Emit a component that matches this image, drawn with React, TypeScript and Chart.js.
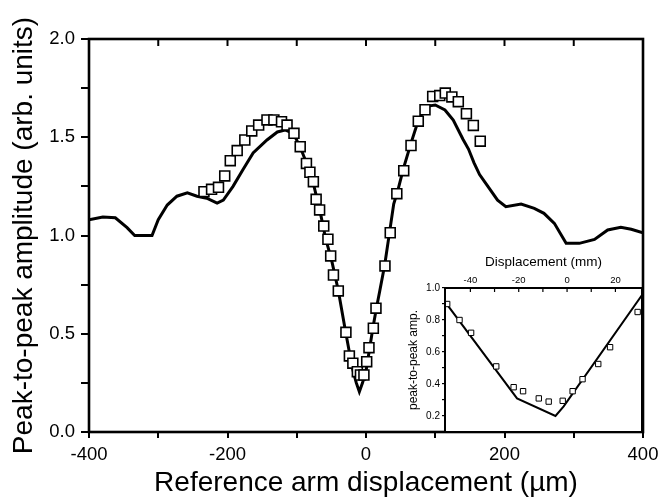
import React, { useEffect, useRef } from 'react';
import { Chart, registerables } from 'chart.js';

Chart.register(...registerables);

// ---- Main chart data (x in µm, y in arb. units) ----
const lineX = [-400, -380, -362, -345, -334, -309, -300, -287, -273, -258, -244, -230, -215, -206, -192, -178, -163, -143, -128, -117, -105, -95, -85, -75, -65, -58, -50, -40, -30, -20, -14, -9.6, -5, 0, 5, 10, 15, 20, 27, 35, 40, 46, 54, 65, 75, 83, 92, 100, 114, 126, 140, 148, 156, 164, 176, 190, 202, 224, 243, 257, 272, 289, 308, 330, 349, 368, 383, 400];
const lineY = [1.08, 1.094, 1.09, 1.04, 1.0, 1.0, 1.08, 1.155, 1.2, 1.217, 1.2, 1.19, 1.165, 1.18, 1.25, 1.333, 1.42, 1.486, 1.527, 1.537, 1.52, 1.45, 1.36, 1.25, 1.1, 0.98, 0.88, 0.72, 0.52, 0.33, 0.25, 0.205, 0.25, 0.31, 0.42, 0.53, 0.63, 0.72, 0.85, 1.04, 1.16, 1.23, 1.34, 1.47, 1.58, 1.635, 1.66, 1.664, 1.639, 1.588, 1.49, 1.44, 1.37, 1.31, 1.25, 1.18, 1.147, 1.16, 1.138, 1.113, 1.062, 0.96, 0.96, 0.98, 1.028, 1.042, 1.032, 1.014];

const squareX = [-234, -223, -213, -204, -196, -186, -175, -165, -155, -143, -133, -122, -114, -104, -95, -86, -81, -76, -72, -67, -61, -55, -51, -47, -40, -29, -24, -19, -12.5, -8, -3, 1, 4.3, 10.6, 14.4, 27.4, 35, 44.5, 54.5, 65, 75.5, 85.2, 96.3, 106.5, 114.5, 124, 133.3, 145, 155, 165];
const squareY = [1.223, 1.235, 1.245, 1.303, 1.381, 1.432, 1.486, 1.532, 1.562, 1.588, 1.588, 1.579, 1.562, 1.52, 1.452, 1.367, 1.322, 1.274, 1.184, 1.13, 1.048, 0.981, 0.896, 0.799, 0.718, 0.507, 0.387, 0.35, 0.307, 0.29, 0.29, 0.358, 0.429, 0.528, 0.63, 0.845, 1.014, 1.213, 1.33, 1.458, 1.582, 1.64, 1.708, 1.712, 1.725, 1.705, 1.681, 1.62, 1.56, 1.48];

const xLabelValues = [-400, -200, 0, 200, 400];
const yLabelValues = [0, 0.5, 1.0, 1.5, 2.0];
const mainTopTicks = [-300, -200, -100, 0, 100, 200, 300];

// ---- Inset data (x in mm) ----
const insetLineX = [-50.3, -20.7, -4.8, -1.4, 31];
const insetLineY = [0.91, 0.31, 0.2, 0.26, 0.956];
const insetSquareX = [-49.6, -44.5, -39.7, -29.3, -22.1, -18.2, -11.7, -7.6, -1.8, 2.3, 6.4, 12.9, 17.8, 29.2];
const insetSquareY = [0.9, 0.8, 0.72, 0.51, 0.38, 0.355, 0.31, 0.29, 0.295, 0.355, 0.43, 0.525, 0.63, 0.85];
const insetXLabelValues = [-40, -20, 0, 20];
const insetYLabelValues = [0.2, 0.4, 0.6, 0.8, 1.0];
const insetTopTicks = [-40, -30, -20, -10, 0, 10, 20];

const FONT = '"Liberation Sans", Arial, Helvetica, sans-serif';

const toPoints = (xs: number[], ys: number[]) => xs.map((x, i) => ({ x, y: ys[i] }));
const near = (v: number, arr: number[]) => arr.some((a) => Math.abs(a - v) < 1e-6);

function makeFrame(opts: { width: number; tickLen: number; tickWidth: number; topTicks: number[]; fill: boolean }) {
  return {
    id: 'frame',
    beforeDatasetsDraw(chart: any) {
      if (!opts.fill) return;
      const { ctx, chartArea: ca } = chart;
      ctx.save();
      ctx.fillStyle = '#fff';
      ctx.fillRect(ca.left, ca.top, ca.right - ca.left, ca.bottom - ca.top);
      ctx.restore();
    },
    afterDraw(chart: any) {
      const { ctx, chartArea: ca, scales } = chart;
      ctx.save();
      ctx.strokeStyle = '#000';
      ctx.lineWidth = opts.tickWidth;
      for (const v of opts.topTicks) {
        const x = scales.x.getPixelForValue(v);
        ctx.beginPath();
        ctx.moveTo(x, ca.top);
        ctx.lineTo(x, ca.top + opts.tickLen);
        ctx.stroke();
      }
      ctx.lineWidth = opts.width;
      ctx.strokeRect(ca.left, ca.top, ca.right - ca.left, ca.bottom - ca.top);
      ctx.restore();
    },
  };
}

export default function App() {
  const mainRef = useRef<HTMLCanvasElement>(null);
  const insetRef = useRef<HTMLCanvasElement>(null);

  useEffect(() => {
    const main = new Chart(mainRef.current as HTMLCanvasElement, {
      type: 'scatter',
      data: {
        datasets: [
          {
            data: toPoints(squareX, squareY),
            pointStyle: 'rect',
            pointRadius: 7,
            pointBorderWidth: 1.6,
            borderColor: '#000',
            backgroundColor: '#fff',
            showLine: false,
          } as any,
          {
            data: toPoints(lineX, lineY),
            showLine: true,
            pointRadius: 0,
            borderColor: '#000',
            borderWidth: 3,
            tension: 0,
            fill: false,
          } as any,
        ],
      },
      options: {
        responsive: false,
        animation: false,
        devicePixelRatio: 1,
        layout: { padding: { top: 39, right: 19, left: 0, bottom: 0 } },
        plugins: { legend: { display: false }, tooltip: { enabled: false } },
        scales: {
          x: {
            type: 'linear',
            min: -400,
            max: 400,
            border: { display: false },
            grid: { drawOnChartArea: false, drawTicks: true, tickLength: 6, lineWidth: 2, color: '#000' },
            ticks: {
              stepSize: 100,
              autoSkip: false,
              maxRotation: 0,
              padding: 6,
              color: '#000',
              font: { family: FONT, size: 18.5 },
              callback: (v: any) => (near(Number(v), xLabelValues) ? String(v) : ''),
            },
            title: {
              display: true,
              text: 'Reference arm displacement (µm)',
              color: '#000',
              font: { family: FONT, size: 28 },
              padding: { top: 0, bottom: 0 },
            },
            afterFit: (s: any) => {
              s.height = 68;
              s.paddingLeft = 0;
              s.paddingRight = 0;
            },
          },
          y: {
            type: 'linear',
            min: 0,
            max: 2,
            border: { display: false },
            grid: { drawOnChartArea: false, drawTicks: true, tickLength: 8, lineWidth: 2, color: '#000' },
            ticks: {
              stepSize: 0.25,
              autoSkip: false,
              padding: 6,
              color: '#000',
              font: { family: FONT, size: 18.5 },
              callback: (v: any) => (near(Number(v), yLabelValues) ? Number(v).toFixed(1) : ''),
            },
            title: {
              display: true,
              text: 'Peak-to-peak amplitude (arb. units)',
              color: '#000',
              font: { family: FONT, size: 28 },
              padding: { top: 7, bottom: 0 },
            },
            afterFit: (s: any) => {
              s.width = 89;
              s.paddingTop = 0;
              s.paddingBottom = 0;
            },
          },
        },
      } as any,
      plugins: [makeFrame({ width: 2.6, tickLen: 7, tickWidth: 2, topTicks: mainTopTicks, fill: false })],
    });

    const inset = new Chart(insetRef.current as HTMLCanvasElement, {
      type: 'scatter',
      data: {
        datasets: [
          {
            data: toPoints(insetSquareX, insetSquareY),
            pointStyle: 'rect',
            pointRadius: 3.8,
            pointBorderWidth: 1,
            borderColor: '#000',
            backgroundColor: '#fff',
            showLine: false,
            clip: 6,
          } as any,
          {
            data: toPoints(insetLineX, insetLineY),
            showLine: true,
            pointRadius: 0,
            borderColor: '#000',
            borderWidth: 2,
            tension: 0,
            fill: false,
          } as any,
        ],
      },
      options: {
        responsive: false,
        animation: false,
        devicePixelRatio: 1,
        layout: { padding: { top: 0, right: 15, left: 0, bottom: 5 } },
        plugins: { legend: { display: false }, tooltip: { enabled: false } },
        scales: {
          x: {
            type: 'linear',
            position: 'top',
            min: -50.5,
            max: 31,
            border: { display: false },
            grid: { display: false, drawTicks: false },
            ticks: {
              stepSize: 10,
              autoSkip: false,
              maxRotation: 0,
              padding: 2,
              color: '#000',
              font: { family: FONT, size: 9.5 },
              callback: (v: any) => (near(Number(v), insetXLabelValues) ? String(v) : ''),
            },
            title: {
              display: true,
              text: 'Displacement (mm)',
              color: '#000',
              font: { family: FONT, size: 13.5 },
              padding: { top: 14, bottom: 0 },
            },
            afterFit: (s: any) => {
              s.height = 48;
              s.paddingLeft = 0;
              s.paddingRight = 0;
            },
          },
          y: {
            type: 'linear',
            min: 0.1,
            max: 1.0,
            border: { display: false },
            grid: { drawOnChartArea: false, drawTicks: true, tickLength: 3, lineWidth: 1.2, color: '#000' },
            ticks: {
              stepSize: 0.1,
              autoSkip: false,
              padding: 2,
              color: '#000',
              font: { family: FONT, size: 10 },
              callback: (v: any) => (near(Number(v), insetYLabelValues) ? Number(v).toFixed(1) : ''),
            },
            title: {
              display: true,
              text: 'peak-to-peak amp.',
              color: '#000',
              font: { family: FONT, size: 12 },
              padding: { top: 21, bottom: 0 },
            },
            afterFit: (s: any) => {
              s.width = 60;
              s.paddingTop = 0;
              s.paddingBottom = 0;
            },
          },
        },
      } as any,
      plugins: [makeFrame({ width: 2, tickLen: 4, tickWidth: 1.2, topTicks: insetTopTicks, fill: true })],
    });

    return () => {
      main.destroy();
      inset.destroy();
    };
  }, []);

  return (
    <div style={{ position: 'fixed', left: 0, top: 0, width: 662, height: 500, background: '#fff' }}>
      <canvas
        ref={mainRef}
        width={662}
        height={500}
        style={{ position: 'absolute', left: 0, top: 0, width: 662, height: 500 }}
      />
      <canvas
        ref={insetRef}
        width={272}
        height={197}
        style={{ position: 'absolute', left: 385, top: 240, width: 272, height: 197 }}
      />
    </div>
  );
}
